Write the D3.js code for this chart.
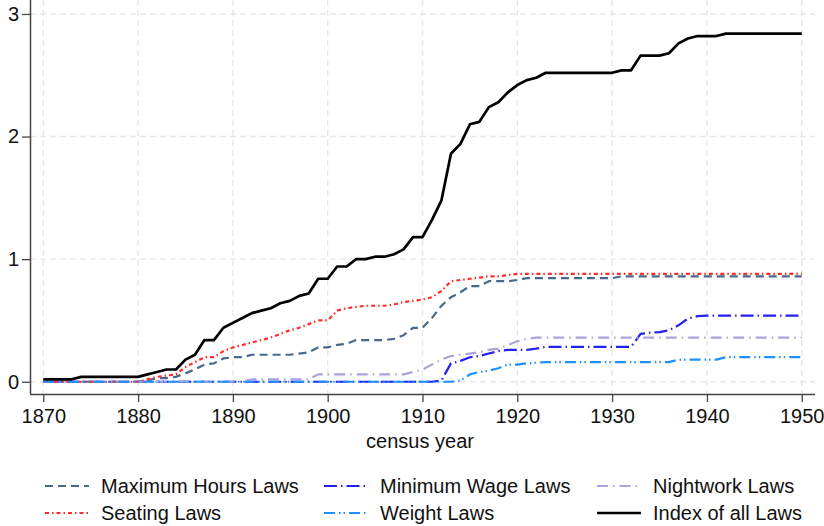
<!DOCTYPE html>
<html>
<head>
<meta charset="utf-8">
<script src="https://cdnjs.cloudflare.com/ajax/libs/d3/7.8.5/d3.min.js"></script>
<style>
body { margin: 0; background: #fff; }
text { font-family: "Liberation Sans", Arial, Helvetica, sans-serif; fill: #111; }
</style>
</head>
<body>
<div id="chart"></div>
<script>
// census years 1870..1950
var years = d3.range(1870, 1951);

var xTicks = [1870, 1880, 1890, 1900, 1910, 1920, 1930, 1940, 1950];
var yTicks = [0, 1, 2, 3];

var maxHours = [0,0,0,0,0,0,0,0,0,0, 0,.01,.03,.03,.04,.07,.10,.14,.15,.19,
	.20,.20,.22,.22,.22,.22,.22,.23,.24,.28, .28,.30,.31,.34,.34,.34,.34,.35,.38,.44,
	.44,.52,.62,.69,.73,.78,.78,.82,.82,.82, .83,.845,.845,.845,.845,.845,.845,.845,.845,.845,
	.845,.86,.86,.86,.86,.86,.86,.86,.86,.86, .86,.86,.86,.86,.86,.86,.86,.86,.86,.86, .86];

var seating = [0,0,0,0,0,0,0,0,0,0, 0,.02,.04,.05,.06,.12,.16,.20,.20,.25,
	.28,.30,.32,.34,.36,.39,.42,.44,.47,.50, .50,.58,.60,.61,.62,.62,.62,.63,.65,.66,
	.67,.69,.74,.82,.83,.84,.85,.86,.86,.87, .88,.88,.88,.88,.88,.88,.88,.88,.88,.88,
	.88,.88,.88,.88,.88,.88,.88,.88,.88,.88, .88,.88,.88,.88,.88,.88,.88,.88,.88,.88, .88];

var minWage = [0,0,0,0,0,0,0,0,0,0, 0,0,0,0,0,0,0,0,0,0,
	0,0,0,0,0,0,0,0,0,0, 0,0,0,0,0,0,0,0,0,0,
	0,0,.01,.15,.17,.20,.21,.23,.25,.26, .26,.26,.27,.285,.285,.285,.285,.285,.285,.285,
	.285,.285,.285,.39,.40,.405,.42,.46,.515,.535, .54,.54,.54,.54,.54,.54,.54,.54,.54,.54, .54];

var nightwork = [0,0,0,0,0,0,0,0,0,0, 0,0,0,0,0,0,0,0,0,0,
	0,0,.02,.02,.02,.02,.02,.02,.02,.06, .06,.06,.06,.06,.06,.06,.06,.06,.06,.08,
	.10,.14,.18,.21,.22,.23,.24,.26,.27,.30, .33,.35,.36,.36,.36,.36,.36,.36,.36,.36,
	.36,.36,.36,.36,.36,.36,.36,.36,.36,.36, .36,.36,.36,.36,.36,.36,.36,.36,.36,.36, .36];

var weight = [0,0,0,0,0,0,0,0,0,0, 0,0,0,0,0,0,0,0,0,0,
	0,0,0,0,0,0,0,0,0,0, 0,0,0,0,0,0,0,0,0,0,
	0,0,0,0,.01,.06,.08,.09,.11,.14, .14,.15,.155,.16,.16,.16,.16,.16,.16,.16,
	.16,.16,.16,.16,.16,.16,.16,.18,.18,.18, .18,.18,.20,.20,.20,.20,.20,.20,.20,.20, .20];

var indexAll = [.02,.02,.02,.02,.04,.04,.04,.04,.04,.04, .04,.06,.08,.10,.10,.18,.22,.34,.34,.44,
	.48,.52,.56,.58,.60,.64,.66,.70,.72,.84, .84,.94,.94,1.00,1.00,1.02,1.02,1.04,1.08,1.18,
	1.18,1.32,1.48,1.86,1.94,2.10,2.12,2.24,2.28,2.36, 2.42,2.46,2.48,2.52,2.52,2.52,2.52,2.52,2.52,2.52,
	2.52,2.54,2.54,2.66,2.66,2.66,2.68,2.76,2.80,2.82, 2.82,2.82,2.84,2.84,2.84,2.84,2.84,2.84,2.84,2.84, 2.84];

var seriesNames = ["Maximum Hours Laws", "Minimum Wage Laws", "Nightwork Laws",
	"Seating Laws", "Weight Laws", "Index of all Laws"];
var seriesValues = [maxHours, minWage, nightwork, seating, weight, indexAll];
var seriesColors = ["#46698c", "#2222ee", "#a9a4dc", "#ff2a2a", "#2090ff", "#000000"];
var seriesDash = ["8,5", "13,4,1.5,4", "11,5,1.5,5", "4,3,1.5,3", "11,4,1.5,3,1.5,4", null];
var seriesWidth = [2.2, 2.2, 2.2, 2.2, 2.2, 2.7];

var W = 824, H = 526;
var plotLeft = 30, plotRight = 815, plotTop = 1.7, plotBottom = 394;

var svg = d3.select("#chart").append("svg")
	.attr("width", W)
	.attr("height", H);

var x = d3.scaleLinear().domain([1868.6, 1951.4]).range([plotLeft, plotRight]);
var y = d3.scaleLinear().domain([-0.1, 3.1]).range([plotBottom, plotTop]);

// grid
svg.append("g").selectAll("line")
	.data(yTicks).enter().append("line")
	.attr("x1", plotLeft).attr("x2", plotRight)
	.attr("y1", function(d) { return y(d); })
	.attr("y2", function(d) { return y(d); })
	.attr("stroke", "#e8e8e8").attr("stroke-width", 1.4)
	.attr("stroke-dasharray", "6,4");
svg.append("g").selectAll("line")
	.data(xTicks).enter().append("line")
	.attr("x1", function(d) { return x(d); })
	.attr("x2", function(d) { return x(d); })
	.attr("y1", 0).attr("y2", plotBottom)
	.attr("stroke", "#e8e8e8").attr("stroke-width", 1.4)
	.attr("stroke-dasharray", "6,4");

// axes
var xAxis = svg.append("g")
	.attr("transform", "translate(0," + plotBottom + ")")
	.call(d3.axisBottom(x).tickValues(xTicks).tickFormat(d3.format("d")).tickSize(8).tickSizeOuter(0));
var yAxis = svg.append("g")
	.attr("transform", "translate(" + plotLeft + ",0)")
	.call(d3.axisLeft(y).tickValues(yTicks).tickFormat(d3.format("d")).tickSize(8).tickSizeOuter(0));

[xAxis, yAxis].forEach(function(g) {
	g.select(".domain").attr("stroke", "#444").attr("stroke-width", 1.5);
	g.selectAll(".tick line").attr("stroke", "#444").attr("stroke-width", 1.3);
	g.selectAll(".tick text").style("font-size", "20px").attr("fill", "#111");
});
xAxis.select(".domain").attr("d", "M" + plotLeft + ",0.5H" + plotRight);
yAxis.select(".domain").attr("d", "M0.5,0V" + plotBottom);
xAxis.selectAll(".tick text").attr("dy", "0.9em");
yAxis.selectAll(".tick text").attr("x", -11);

svg.append("text")
	.attr("x", 420).attr("y", 448)
	.attr("text-anchor", "middle")
	.style("font-size", "20px")
	.text("census year");

// lines
var lineGen = d3.line()
	.x(function(d, i) { return x(years[i]); })
	.y(function(d) { return y(d); });

for (var s = 0; s < seriesValues.length; s++) {
	svg.append("path")
		.datum(seriesValues[s])
		.attr("d", lineGen)
		.attr("fill", "none")
		.attr("stroke", seriesColors[s])
		.attr("stroke-width", seriesWidth[s])
		.attr("stroke-linejoin", "round")
		.attr("stroke-dasharray", seriesDash[s]);
}

// legend, 3 columns
var legX = [45, 324, 597];
var legY = [486, 513];
for (var k = 0; k < seriesNames.length; k++) {
	var lx = legX[k % 3], ly = legY[Math.floor(k / 3)];
	svg.append("line")
		.attr("x1", lx).attr("x2", lx + 44)
		.attr("y1", ly).attr("y2", ly)
		.attr("stroke", seriesColors[k])
		.attr("stroke-width", seriesWidth[k])
		.attr("stroke-dasharray", seriesDash[k]);
	svg.append("text")
		.attr("x", lx + 56).attr("y", ly)
		.attr("dy", "0.35em")
		.style("font-size", "20px")
		.text(seriesNames[k]);
}
</script>
</body>
</html>
